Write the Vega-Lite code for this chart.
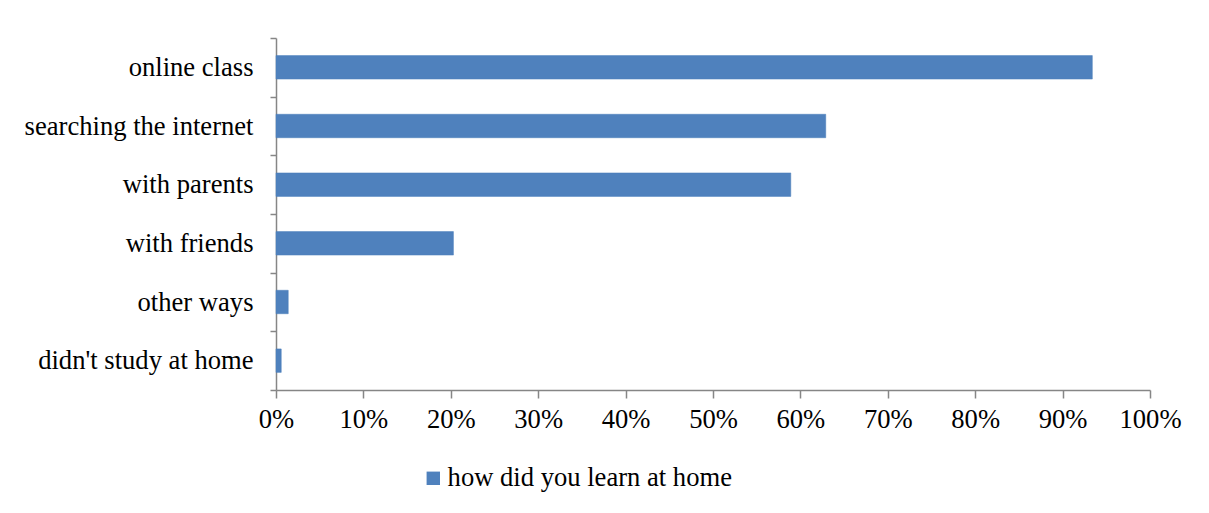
{
  "$schema": "https://vega.github.io/schema/vega-lite/v6.json",
  "width": 874,
  "height": 352,
  "autosize": {"type": "none"},
  "padding": {"left": 276, "top": 38, "right": 59, "bottom": 123},
  "background": "white",
  "config": {
    "view": {"stroke": null},
    "font": "Liberation Serif"
  },
  "data": {
    "values": [
      {"method": "online class", "share": 0.934, "series": "how did you learn at home"},
      {"method": "searching the internet", "share": 0.629, "series": "how did you learn at home"},
      {"method": "with parents", "share": 0.589, "series": "how did you learn at home"},
      {"method": "with friends", "share": 0.203, "series": "how did you learn at home"},
      {"method": "other ways", "share": 0.014, "series": "how did you learn at home"},
      {"method": "didn't study at home", "share": 0.006, "series": "how did you learn at home"}
    ]
  },
  "mark": {"type": "bar", "stroke": "#4A7EBB", "strokeWidth": 0.5, "height": {"band": 0.4}},
  "encoding": {
    "y": {
      "field": "method",
      "type": "nominal",
      "sort": null,
      "scale": {"paddingInner": 0, "paddingOuter": 0},
      "axis": {
        "title": null,
        "tickBand": "extent",
        "domainColor": "#868686",
        "domainWidth": 1.5,
        "tickColor": "#868686",
        "tickWidth": 1.5,
        "tickSize": 6,
        "labelFont": "Liberation Serif",
        "labelFontSize": 26.6,
        "labelColor": "black",
        "labelPadding": 17,
        "labelLimit": 400
      }
    },
    "x": {
      "field": "share",
      "type": "quantitative",
      "scale": {"domain": [0, 1], "nice": false},
      "axis": {
        "title": null,
        "format": ".0%",
        "values": [0, 0.1, 0.2, 0.3, 0.4, 0.5, 0.6, 0.7, 0.8, 0.9, 1.0],
        "grid": false,
        "domainColor": "#868686",
        "domainWidth": 1.5,
        "tickColor": "#868686",
        "tickWidth": 1.5,
        "tickSize": 8,
        "labelFont": "Liberation Serif",
        "labelFontSize": 26.6,
        "labelColor": "black",
        "labelPadding": 8,
        "labelFlush": false
      }
    },
    "color": {
      "field": "series",
      "type": "nominal",
      "scale": {"range": ["#4F81BD"]},
      "legend": {
        "title": null,
        "orient": "none",
        "legendX": 144,
        "legendY": 427,
        "symbolType": "square",
        "symbolSize": 180,
        "symbolStrokeWidth": 0,
        "labelFont": "Liberation Serif",
        "labelFontSize": 26.6,
        "labelColor": "black",
        "labelOffset": 1,
        "labelLimit": 600
      }
    }
  }
}
